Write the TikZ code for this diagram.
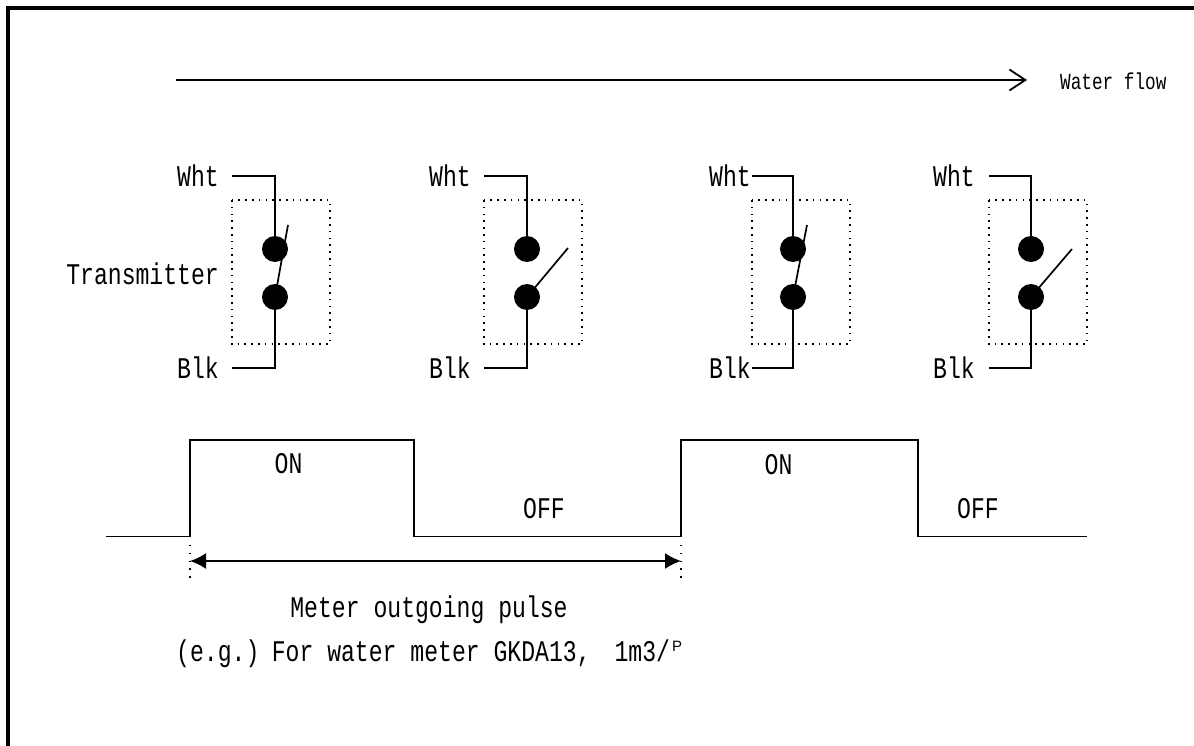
\documentclass[tikz,border=0pt]{standalone}
\usepackage{fontspec}
\setmainfont{Liberation Mono}
\newfontfamily\gothic[FakeStretch=0.77]{Liberation Mono}
\newfontfamily\supsans{Liberation Sans}
\usetikzlibrary{arrows.meta}
\tikzset{
  wire/.style={draw=black,line width=1.7pt},
  lbl/.style={inner sep=0pt,font=\gothic\fontsize{30}{30}\selectfont},
  smalllbl/.style={inner sep=0pt,font=\gothic\fontsize{23}{23}\selectfont},
  contact/.style={circle,fill=black,draw=none,minimum size=26pt,inner sep=0pt},
  dotbox/.style={draw=black,line width=1.6pt,dash pattern=on 1.6pt off 5.2pt},
  dotline/.style={draw=black,line width=1.4pt,dash pattern=on 1.4pt off 6.4pt},
}
\begin{document}
\begin{tikzpicture}[x=1pt,y=-1pt]
\useasboundingbox (0,0) rectangle (1194,746);
\fill[white] (0,0) rectangle (1194,746);
\draw[line width=4pt] (1194,8) -- (8,8) -- (8,746);
% water flow
\coordinate (fa) at (176,80);
\coordinate (fb) at (1027,80);
\draw[wire,-{Straight Barb[length=16pt,width=21pt,line width=1.8pt]}] (fa) -- (fb);
\node[smalllbl,anchor=west] (flow) at (1060,81) {Water flow};
% switches
\foreach \n/\cx/\lx/\bx/\by in {
  1/275/232/288/225,
  2/527/484/568/248,
  3/793/752/807/225,
  4/1031/989/1072/249}{
  \coordinate (wa\n) at (\lx,176);
  \coordinate (wc\n) at (\cx,176);
  \coordinate (ba\n) at (\lx,368);
  \coordinate (bc\n) at (\cx,368);
  \coordinate (blade\n) at (\bx,\by);
  \draw[dotbox] (\lx,200) rectangle (\lx+98,344);
  \node[contact] (up\n) at (\cx,249) {};
  \node[contact] (lo\n) at (\cx,297) {};
  \draw[wire] (wa\n) -- (wc\n) -- (up\n.center);
  \draw[wire] (ba\n) -- (bc\n) -- (lo\n.center);
  \draw[wire] (lo\n.center) -- (blade\n);
}
\node[lbl,anchor=east] (w1) at (219,176) {Wht};
\node[lbl,anchor=east] (b1) at (219,368) {Blk};
\node[lbl,anchor=east] (w2) at (471,176) {Wht};
\node[lbl,anchor=east] (b2) at (471,368) {Blk};
\node[lbl,anchor=east] (w3) at (751,176) {Wht};
\node[lbl,anchor=east] (b3) at (751,368) {Blk};
\node[lbl,anchor=east] (w4) at (975,176) {Wht};
\node[lbl,anchor=east] (b4) at (975,368) {Blk};
\node[lbl,anchor=east] (tx) at (219,274) {Transmitter};
% pulse
\coordinate (p0) at (106,536.5);
\coordinate (p1) at (190,536.5);
\coordinate (p2) at (190,440);
\coordinate (p3) at (414,440);
\coordinate (p4) at (414,536.5);
\coordinate (p5) at (681,536.5);
\coordinate (p6) at (681,440);
\coordinate (p7) at (918,440);
\coordinate (p8) at (918,536.5);
\coordinate (p9) at (1087,536.5);
\draw[wire,line join=miter] (p0) -- (p1) -- (p2) -- (p3) -- (p4) -- (p5) -- (p6) -- (p7) -- (p8) -- (p9);
\node[lbl] (on1) at (288.5,464) {ON};
\node[lbl] (off1) at (544,509) {OFF};
\node[lbl] (on2) at (778.5,465) {ON};
\node[lbl] (off2) at (978,509) {OFF};
% dimension
\coordinate (d1t) at (190,545);
\coordinate (d1b) at (190,579);
\coordinate (d2t) at (681,545);
\coordinate (d2b) at (681,579);
\coordinate (da) at (190,561);
\coordinate (db) at (681,561);
\draw[dotline] (d1t) -- (d1b);
\draw[dotline] (d2t) -- (d2b);
\draw[wire,{Latex[length=16pt,width=16pt]}-{Latex[length=16pt,width=16pt]}] (da) -- (db);
\node[lbl] (mop) at (429,610) {Meter outgoing pulse};
\node[lbl,anchor=west] (eg) at (176,654) {(e.g.)\hspace{-6pt} For water meter GKDA13,\hspace{24pt}1m3/\hspace{2pt}\raisebox{10pt}{\supsans\fontsize{15}{15}\selectfont P}};
\end{tikzpicture}
\end{document}
